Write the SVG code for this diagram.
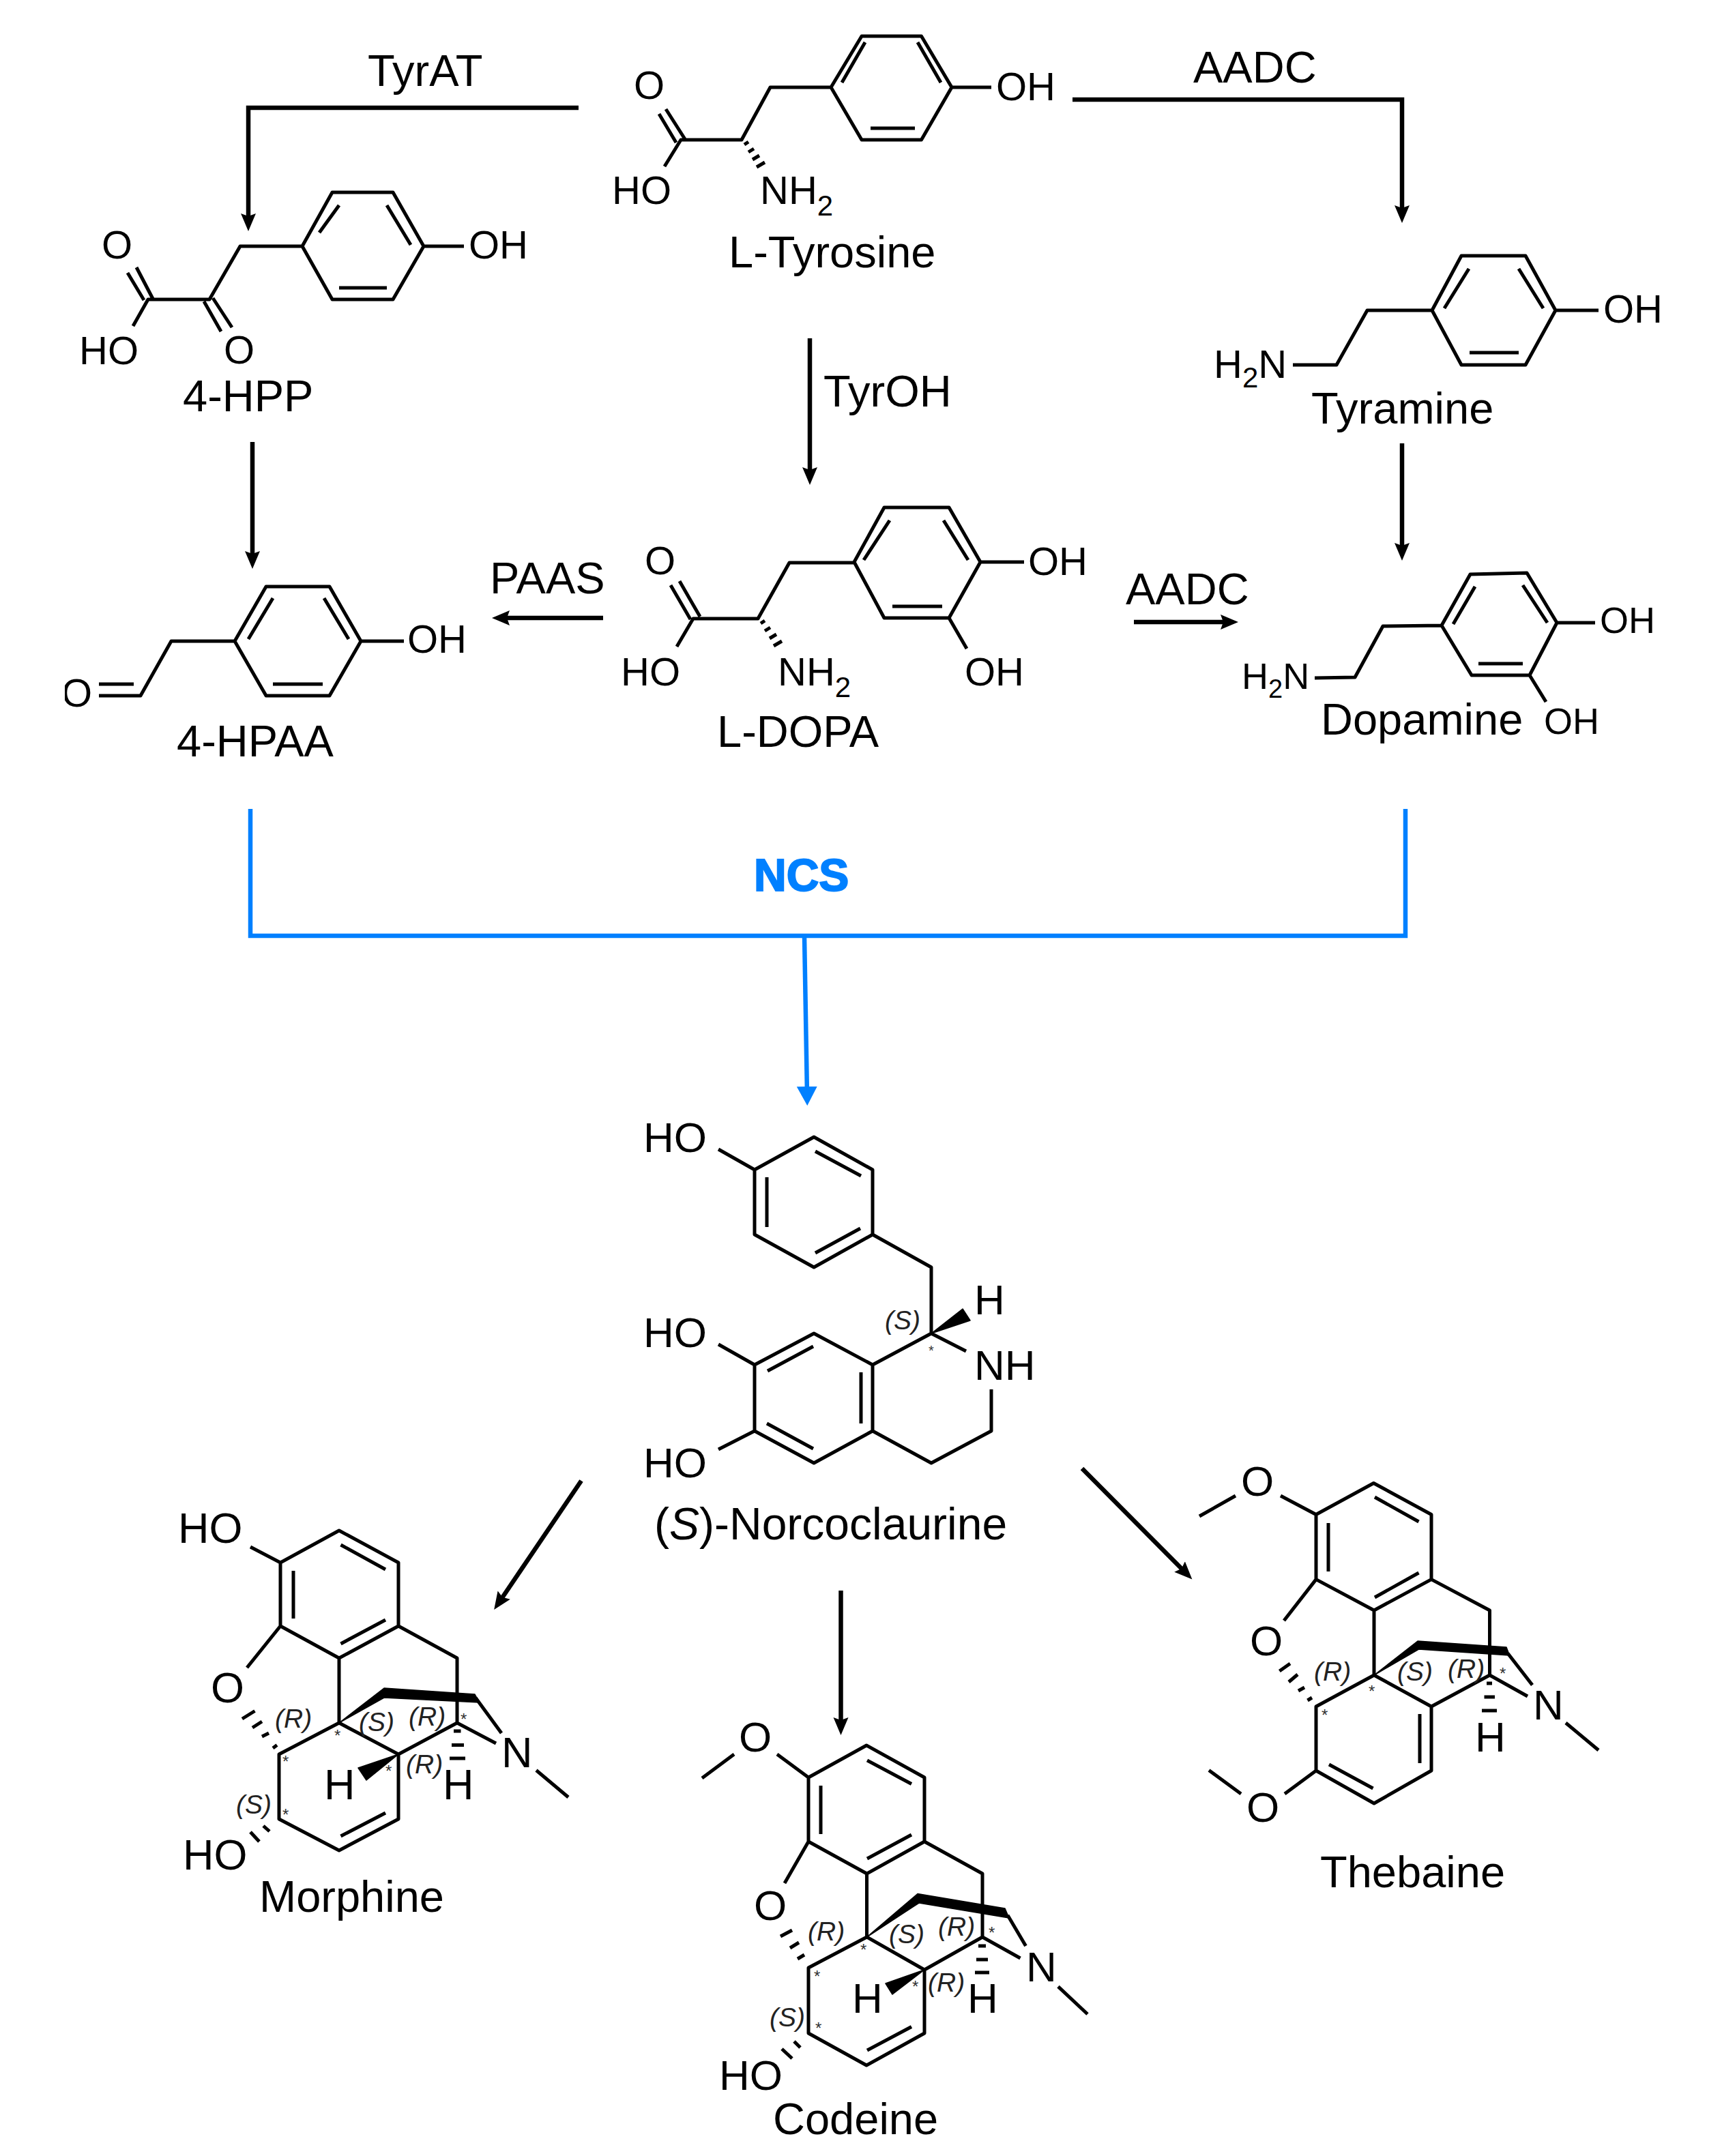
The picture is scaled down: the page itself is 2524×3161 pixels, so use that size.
<svg xmlns="http://www.w3.org/2000/svg" width="2524" height="3161" viewBox="0 0 2524 3161">
<style>
text{font-family:"Liberation Sans",Arial,sans-serif;fill:#000}
.b{fill:none;stroke:#000;stroke-width:5;stroke-linejoin:round;stroke-linecap:butt}
.w{fill:#000;stroke:#000;stroke-width:1.5;stroke-linejoin:round}
.a{font-size:58px}
.l{font-size:65px}
.s{font-size:39px;font-style:italic;fill:#222}
.t{font-size:24px;fill:#333}
.c{fill:none;stroke:#000;stroke-width:6.500}
.n{fill:none;stroke:#0080ff;stroke-width:6.500}
</style>
<defs>
<marker id="ah" markerUnits="userSpaceOnUse" markerWidth="30" markerHeight="28" refX="12" refY="14" orient="auto"><path d="M0,3L26,14L0,25L4,14Z" fill="#000"/></marker>
<marker id="ab" markerUnits="userSpaceOnUse" markerWidth="32" markerHeight="34" refX="12" refY="17" orient="auto"><path d="M0,2L28,17L0,32Z" fill="#0080ff"/></marker>
<clipPath id="cl"><rect x="95" y="960" width="60" height="100"/></clipPath>
</defs>

<g id="connectors">
<path class="c" marker-end="url(#ah)" d="M848,158H364V325"/>
<path class="c" marker-end="url(#ah)" d="M1572,146H2055V313"/>
<path class="c" marker-end="url(#ah)" d="M1187,496V697"/>
<path class="c" marker-end="url(#ah)" d="M370,648V820"/>
<path class="c" marker-end="url(#ah)" d="M2055,650V808"/>
<path class="c" marker-end="url(#ah)" d="M884,906H735"/>
<path class="c" marker-end="url(#ah)" d="M1662,912H1801"/>
<path class="n" d="M367,1186V1372H2060V1186"/>
<path class="n" marker-end="url(#ab)" d="M1179,1372L1183,1605"/>
<path class="c" marker-end="url(#ah)" d="M852,2171L732,2348.500"/>
<path class="c" marker-end="url(#ah)" d="M1232.500,2332V2530"/>
<path class="c" marker-end="url(#ah)" d="M1586,2153L1737.500,2305.500"/>
</g>

<g id="labels">
<text class="l" x="539" y="126">TyrAT</text>
<text class="l" x="1749" y="121">AADC</text>
<text class="l" x="1207" y="596">TyrOH</text>
<text class="l" x="718" y="870">PAAS</text>
<text class="l" x="1650" y="886">AADC</text>
<text x="1105" y="1306" style="font-size:66px;font-weight:bold;fill:#0080ff;stroke:#0080ff;stroke-width:2">NCS</text>
</g>

<g id="l-tyrosine">
<path class="b" d="M1218,128L1263,53H1350.500L1395,128L1350.500,205H1263ZM1234,121L1268,62M1345,62L1379,121M1276,188H1341M1395,128H1453M1218,128H1129L1087,205H998L974,244M1004,204L976,160M991,209L966,167"/>
<path class="b" d="M1091,212L1097,208M1097,223L1105,218M1103,234L1113,228M1109,245L1121,238"/>
<text class="a" x="929" y="145">O</text>
<text class="a" x="897" y="299">HO</text>
<text class="a" x="1114" y="299">NH<tspan dy="17" font-size="42">2</tspan></text>
<text class="a" x="1460" y="147">OH</text>
<text class="l" x="1068" y="392">L-Tyrosine</text>
</g>

<g id="hpp">
<path class="b" d="M443,361L487,282H576L621,361L576,439H487ZM468,341L497,301M567,301L602,359M497,422H567M621,361H680M443,361H352L307,439H217L195,478M312,437L340,480M299,442L324,486M187,400L211,440M200,392L224,438"/>
<text class="a" x="149" y="379">O</text>
<text class="a" x="116" y="534">HO</text>
<text class="a" x="328" y="533">O</text>
<text class="a" x="687" y="379">OH</text>
<text class="l" x="268" y="603">4-HPP</text>
</g>

<g id="hpaa">
<path class="b" d="M344,940L390,860H483L529,940L483,1020H390ZM364,937L400,877M475,877L511,937M400,1003H473M529,940H592M344,940H251L206,1020H145M145,1003H196"/>
<text class="a" x="90" y="1036" clip-path="url(#cl)">O</text>
<text class="a" x="597" y="957">OH</text>
<text class="l" x="259" y="1109">4-HPAA</text>
</g>

<g id="l-dopa">
<path class="b" d="M1252,824L1296,744H1391L1437,824L1391,906H1296ZM1266,821L1304,763M1383,763L1419,821M1308,889H1381M1437,824H1501M1391,906L1417,951M1252,825H1157L1111,907H1016L992,948M983,858L1012,908M996,852L1026,904"/>
<path class="b" d="M1115,914L1121,910M1121,925L1129,920M1128,936L1138,930M1134,947L1146,940"/>
<text class="a" x="945" y="842">O</text>
<text class="a" x="910" y="1005">HO</text>
<text class="a" x="1140" y="1005">NH<tspan dy="17" font-size="42">2</tspan></text>
<text class="a" x="1507" y="843">OH</text>
<text class="a" x="1414" y="1005">OH</text>
<text class="l" x="1051" y="1095">L-DOPA</text>
</g>

<g id="tyramine">
<path class="b" d="M2099,455L2142,375H2236L2280,455L2236,535H2142ZM2117,452L2153,394M2226,394L2262,452M2154,517H2226M2280,455H2343M2099,455H2004L1959,535H1895"/>
<text class="a" x="2350" y="473">OH</text>
<text class="a" x="1779" y="554">H<tspan dy="14" font-size="42">2</tspan><tspan dy="-14">N</tspan></text>
<text class="l" x="1922" y="621">Tyramine</text>
</g>

<g id="dopamine">
<path class="b" d="M2113,917L2155,842L2238,840L2282,913L2242,990H2157ZM2130,915L2162,860M2232,858L2268,913M2167,973H2232M2282,913H2338M2242,990L2266,1029M2113,917L2027,918L1986,993L1927,994"/>
<text class="a" x="2345" y="928" style="font-size:54px">OH</text>
<text class="a" x="2263" y="1076" style="font-size:54px">OH</text>
<text class="a" x="1820" y="1010" style="font-size:54px">H<tspan dy="13" font-size="38">2</tspan><tspan dy="-13">N</tspan></text>
<text class="l" x="1936" y="1077">Dopamine</text>
</g>

<g id="norcoclaurine">
<path class="b" d="M1193,1667L1279,1715V1810L1193,1858L1106,1810V1715ZM1195,1688L1262,1724M1124,1726V1799M1195,1837L1261,1801M1106,1715L1053,1685M1279,1810L1365,1858V1955L1279,2001L1193,1955L1106,2001V2098L1193,2145L1279,2098V2001M1125,2010L1192,1974M1262,2012V2087M1124,2087L1192,2124M1365,1955L1416,1981M1453,2037V2098L1365,2145L1279,2098M1106,2001L1053,1971M1106,2098L1053,2125"/>
<path class="w" d="M1365,1955L1411,1919L1422,1936Z"/>
<text class="a" x="943" y="1689" style="font-size:62px">HO</text>
<text class="a" x="943" y="1975" style="font-size:62px">HO</text>
<text class="a" x="943" y="2166" style="font-size:62px">HO</text>
<text class="a" x="1428" y="1927" style="font-size:62px">H</text>
<text class="a" x="1428" y="2023" style="font-size:62px">NH</text>
<text class="s" x="1297" y="1949">(S)</text>
<text class="t" x="1361" y="1987" style="font-size:20px">*</text>
<text class="l" x="959" y="2257" style="font-size:66px">(<tspan font-style="italic">S</tspan>)-Norcoclaurine</text>
</g>

<g id="morphine">
<path class="b" d="M411,2291L497,2244L584,2291V2384L497,2431L411,2384ZM430,2303V2373M499.500,2265L565,2301M499.500,2410L565,2375M411,2291L367,2268M411,2384L362,2445M584,2384L670,2431V2526L584,2572L497,2526L409,2572V2667L497,2713L584,2667V2572M497,2431V2526M499.500,2692L565,2658M409,2667L497,2713M697,2489L735,2541M670,2526L727,2556M786,2595.500L833,2635"/>
<path class="b" d="M355,2520L373.500,2508.500M370,2533L384,2524M384,2546L394,2541M400,2563L406,2558.500M665,2538H675.500M662,2558.500H680M659,2578H682M386,2677L395,2685M367,2686L380,2700"/>
<path class="w" d="M497,2526L563,2475L696,2484L702.500,2496L563,2489Z"/>
<path class="w" d="M584,2572L525,2592L537,2610Z"/>
<text class="a" x="261" y="2262" style="font-size:63px">HO</text>
<text class="a" x="309" y="2496" style="font-size:63px">O</text>
<text class="a" x="268" y="2741" style="font-size:63px">HO</text>
<text class="a" x="735" y="2591" style="font-size:63px">N</text>
<text class="a" x="475" y="2638" style="font-size:63px">H</text>
<text class="a" x="649" y="2638" style="font-size:63px">H</text>
<text class="s" x="403" y="2533">(R)</text>
<text class="s" x="526" y="2538">(S)</text>
<text class="s" x="599" y="2530">(R)</text>
<text class="s" x="595" y="2600">(R)</text>
<text class="s" x="346" y="2659">(S)</text>
<text class="t" x="414" y="2591">*</text>
<text class="t" x="490" y="2553">*</text>
<text class="t" x="675" y="2529">*</text>
<text class="t" x="565" y="2605">*</text>
<text class="t" x="414" y="2669">*</text>
<text class="l" x="380" y="2803">Morphine</text>
</g>

<g id="codeine">
<path class="b" d="M1185,2606L1270,2559L1355,2606V2700L1270.500,2747L1185,2700ZM1203,2618V2689M1271,2581L1336,2615.500M1271,2725L1336,2690M1185,2606L1139,2572M1076,2572L1029,2607M1185,2700L1150,2761M1355,2700L1440,2747V2840L1355,2888L1270.500,2840L1185,2885V2981L1270,3028L1355,2981V2888M1270.500,2747V2840M1271,3006L1336,2971.500M1477,2808L1503.500,2853M1440,2840L1495.500,2871M1551,2912.600L1594,2953"/>
<path class="b" d="M1144,2839L1161,2830M1158,2856L1171,2848M1169,2872L1179,2866M1164,2993L1173,3002M1146,3004L1161,3018M1434,2853H1445M1431,2873H1448M1429,2892H1450"/>
<path class="w" d="M1270.500,2840L1345,2776.500L1473,2798L1479,2812L1347,2790Z"/>
<path class="w" d="M1355,2888L1298,2908L1308,2924Z"/>
<text class="a" x="1083" y="2568" style="font-size:62px">O</text>
<text class="a" x="1105" y="2815" style="font-size:62px">O</text>
<text class="a" x="1054" y="3064" style="font-size:62px">HO</text>
<text class="a" x="1504" y="2905" style="font-size:62px">N</text>
<text class="a" x="1249" y="2951" style="font-size:62px">H</text>
<text class="a" x="1418" y="2951" style="font-size:62px">H</text>
<text class="s" x="1184" y="2845">(R)</text>
<text class="s" x="1303" y="2849">(S)</text>
<text class="s" x="1375" y="2838">(R)</text>
<text class="s" x="1360" y="2920">(R)</text>
<text class="s" x="1128" y="2971">(S)</text>
<text class="t" x="1261" y="2867">*</text>
<text class="t" x="1193" y="2906">*</text>
<text class="t" x="1449" y="2842">*</text>
<text class="t" x="1337" y="2921">*</text>
<text class="t" x="1195" y="2982">*</text>
<text class="l" x="1133" y="3129">Codeine</text>
</g>

<g id="thebaine">
<path class="b" d="M1929,2220.500L2013.400,2174.500L2098,2220.500V2315.600L2014,2361L1929,2315.600ZM1947,2233V2304M2015,2195L2079.500,2231M2015,2342L2079.500,2306M1929,2220.500L1877,2193M1811,2193L1758,2223M1929,2315.600L1882,2376M2098,2315.600L2183.500,2361V2456L2098,2502L2014,2456L1929,2502V2596L2014,2644L2098,2596V2502M2014,2361V2456M2081,2513V2585M1948,2587L2012.500,2622M2210,2424L2246,2470.500M2183.500,2456L2239,2487M2295,2526L2343,2566M1929,2596L1883,2630M1819,2630L1772,2595.500"/>
<path class="b" d="M1875.400,2450L1891,2439M1889,2466L1902,2455M1903,2479L1912,2474M1916.500,2493L1923,2489M2179,2468H2187M2175.500,2488H2191M2172,2508H2194"/>
<path class="w" d="M2014,2456L2078,2406L2208,2415L2212.500,2427L2079.500,2418Z"/>
<text class="a" x="1819" y="2193" style="font-size:62px">O</text>
<text class="a" x="1832" y="2427" style="font-size:62px">O</text>
<text class="a" x="1827" y="2671" style="font-size:62px">O</text>
<text class="a" x="2247" y="2521" style="font-size:62px">N</text>
<text class="a" x="2162" y="2568" style="font-size:62px">H</text>
<text class="s" x="1926" y="2464">(R)</text>
<text class="s" x="2048" y="2464">(S)</text>
<text class="s" x="2122" y="2460">(R)</text>
<text class="t" x="2006" y="2488">*</text>
<text class="t" x="1937" y="2523">*</text>
<text class="t" x="2198" y="2462">*</text>
<text class="l" x="1935" y="2767">Thebaine</text>
</g>
</svg>
